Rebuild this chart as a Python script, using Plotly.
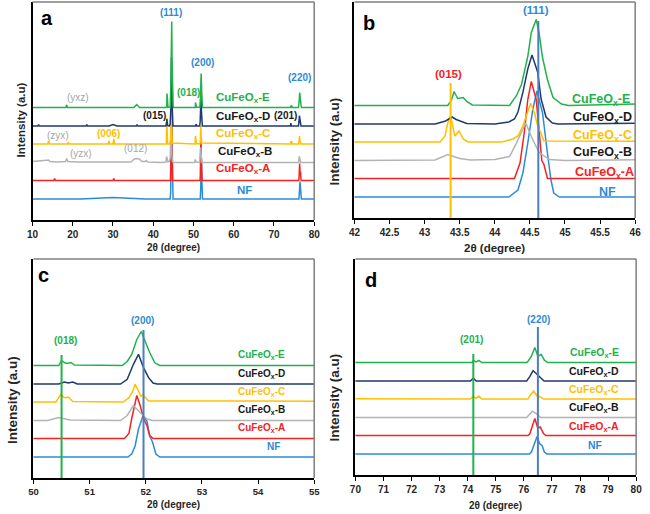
import plotly.graph_objects as go

# ---------------- data ----------------
series_names = ["NF", "CuFeOx-A", "CuFeOx-B", "CuFeOx-C", "CuFeOx-D", "CuFeOx-E"]
series_offsets = [21, 39.5, 57.5, 76, 94, 112.5]

nf_x = [10, 22, 30, 38, 44.20, 44.33, 44.40, 44.47, 44.54, 44.60, 44.68, 44.75, 44.80, 44.84, 44.92,
        51.68, 51.75, 51.81, 51.87, 51.95, 52.02, 52.07, 52.12, 52.18, 52.25,
        76.20, 76.27, 76.35, 76.47, 76.56, 76.65, 76.73, 76.82, 80]
nf_y = [0, 0, 1.5, 0, 0, 7, 24, 54, 87, 106, 84, 44, 17, 4, 0,
        0, 3, 11, 28, 41, 36, 21, 15, 3, 0,
        0, 2, 8.6, 17.5, 10.3, 8.6, 2, 0, 0]

a_x = [10, 15.3, 15.5, 15.7, 30.0, 30.2, 30.4,
       44.28, 44.36, 44.42, 44.47, 44.52, 44.59, 44.63, 44.67, 44.70, 44.75,
       51.62, 51.70, 51.75, 51.80, 51.84, 51.90, 51.96, 52.02, 52.07, 52.13,
       76.14, 76.21, 76.30, 76.39, 76.50, 76.58, 76.70, 76.78, 80]
a_y = [0, 0, 2, 0, 0, 2, 0,
       0, 15.7, 46, 79, 97, 79, 46, 18, 14, 0,
       0, 5, 20, 33, 43, 33, 20, 13, 3, 0,
       0, 1.5, 8.7, 17, 7, 8.7, 2, 0, 0]

b_x = [10, 12, 14.0, 14.3, 16, 18.2, 18.5, 18.8, 21,
       34.5, 35.3, 35.8, 36.5, 37.2, 38.0, 38.3, 38.6,
       42.0, 43.15, 43.33, 43.5, 43.65, 44.0, 44.21, 44.31, 44.44, 44.52, 44.63, 44.78, 45.0,
       50.25, 50.45, 50.65, 51.55, 51.67, 51.78, 51.90, 52.02, 52.12,
       76.10, 76.20, 76.30, 76.44, 76.60, 80]
b_y = [1, 1.5, 2.5, 1, 0.5, 1, 4, 1, 0.5,
       0.5, 3.5, 4, 3.5, 1, 1, 2, 0.5,
       0, 0.5, 6, 2, 0.5, 1, 4, 17.7, 37.7, 24, 8, 1, 0,
       0, 3, 0.5, 0, 5, 15, 8, 1.5, 0,
       0, 3, 6.3, 4, 0, 0]

c_x = [10, 13.8, 14.0, 14.2, 18.7, 18.9, 19.1, 28.8, 29.0, 29.2, 30.0, 30.2, 30.4,
       43.22, 43.29, 43.33, 43.37, 43.40, 43.43, 43.49, 43.55, 43.62,
       44.10, 44.26, 44.33, 44.40, 44.51, 44.57, 44.61, 44.65, 44.70,
       50.40, 50.49, 50.53, 50.57, 50.62, 50.70,
       51.60, 51.70, 51.76, 51.81, 51.87, 51.91, 51.95, 52.05,
       74.10, 74.20, 74.30, 74.40, 74.50,
       76.15, 76.21, 76.35, 76.47, 76.60, 76.70, 80]
c_y = [0, 0, 3, 0, 0, 2, 0, 0, 3, 0, 0, 5, 0,
       0, 6, 19, 26, 16, 6, 11, 3, 0,
       0, 3, 6, 16, 38.7, 28, 16, 10, 1,
       0, 8, 5, 4.3, 5, 0.5,
       0, 4.3, 10, 17.7, 11, 6, 7, 1,
       0, 3, 0.5, 3, 0,
       0, 3, 8, 3, 2, 0, 0]

d_x = [10, 11.3, 11.5, 11.7, 23.3, 23.5, 23.7, 29.0, 30.0, 31.0, 35.8, 36.0, 36.2,
       43.15, 43.30, 43.39, 43.45, 43.60,
       44.00, 44.20, 44.28, 44.33, 44.40, 44.47, 44.53, 44.61, 44.66, 44.73, 44.82, 44.90,
       50.45, 50.55, 50.62, 50.70, 50.78,
       51.55, 51.67, 51.78, 51.87, 51.96, 52.05, 52.13, 52.20,
       74.10, 74.20, 74.30,
       76.10, 76.21, 76.33, 76.42, 76.50, 76.62, 76.72, 80]
d_y = [0, 0, 1.5, 0, 0, 1.5, 0, 0, 1.5, 0, 0, 1.5, 0,
       0, 3, 7, 4.5, 0.5,
       0, 2, 5, 12, 31.7, 55, 69, 52, 25, 7, 1, 0,
       0, 2, 1, 2, 0,
       0, 4.7, 19.7, 29.7, 16.3, 6.3, 1, 0,
       0, 3, 0,
       0, 4.3, 10.3, 8, 6, 2.7, 0, 0]

e_x = [10, 18.3, 18.5, 18.7, 35.2, 35.9, 36.6,
       43.33, 43.38, 43.42, 43.47, 43.55, 43.60, 43.68,
       44.21, 44.31, 44.38, 44.47, 44.52, 44.59, 44.63, 44.68, 44.75, 44.83, 44.95, 45.05,
       50.45, 50.50, 50.55, 50.60, 50.67, 50.73,
       51.58, 51.67, 51.75, 51.84, 51.92, 51.99, 52.07, 52.16, 52.25,
       74.15, 74.20, 74.30, 74.40, 74.50,
       76.10, 76.15, 76.27, 76.39, 76.50, 76.62, 76.73, 76.85, 80]
e_y = [0, 0, 2.5, 0, 0, 3, 0,
       0, 5, 14, 7, 8, 4, 0.5,
       0, 10, 21, 49, 73, 86, 73, 48, 26, 8, 1.5, 0,
       0, 5, 3, 2, 3, 0.5,
       0, 4, 11, 26, 34, 24, 13, 2.7, 0,
       0, 2, 0.5, 2, 0,
       0, 1.3, 6.3, 15, 6.3, 8, 2.3, 0, 0]

series_x = [nf_x, a_x, b_x, c_x, d_x, e_x]
series_y = [nf_y, a_y, b_y, c_y, d_y, e_y]

# text labels of the series (shown at right of each panel)
label_texts = ["NF", "CuFeO<sub>x</sub>-A", "CuFeO<sub>x</sub>-B",
               "CuFeO<sub>x</sub>-C", "CuFeO<sub>x</sub>-D", "CuFeO<sub>x</sub>-E"]

# reference lines per panel: (2theta, top)
ref_b = [(43.37, 135, "yellow"), (44.62, 197, "ref")]
ref_c = [(50.50, 123, "green"), (51.96, 148, "ref")]
ref_d = [(74.20, 121, "green"), (76.50, 148, "ref")]

# peak index labels per panel: (text, 2theta, y, colour, bold)
hkl_a = [("(111)", 44.5, 207, "blue", True), ("(200)", 52.2, 157, "blue", True),
         ("(220)", 76.3, 143, "blue", True), ("(018)", 48.7, 128, "green", True),
         ("(015)", 40.4, 105, "black", True), ("(201)", 72.9, 105, "black", True),
         ("(yxz)", 21.2, 123, "gray", False), ("(zyx)", 16.3, 85, "gray", False),
         ("(006)", 29.0, 87, "yellow", True), ("(yzx)", 22.1, 67, "gray", False),
         ("(012)", 35.5, 72, "gray", False)]
hkl_b = [("(111)", 44.59, 208, "blue", True), ("(015)", 43.34, 144, "red", True)]
hkl_c = [("(200)", 51.95, 158, "blue", True), ("(018)", 50.57, 138, "green", True)]
hkl_d = [("(220)", 76.51, 156, "blue", True), ("(201)", 74.14, 136, "green", True)]

# ---------------- styling ----------------
FONT = "Liberation Sans, Arial, sans-serif"
palette = {"blue": "#2b8cd6", "red": "#f52222", "gray": "#b3b3b3", "yellow": "#ffc000",
           "navy": "#1f3a6e", "green": "#22b14c", "black": "#1a1a1a", "ref": "#4a7fc0"}
series_colors = [palette["blue"], palette["red"], palette["gray"], palette["yellow"],
                 palette["navy"], palette["green"]]
label_colors = [palette["blue"], palette["red"], palette["black"], palette["yellow"],
                palette["black"], palette["green"]]
text_colors = dict(palette)
text_colors["gray"] = "#a6a6a6"

panels = [
    dict(letter="a", xa="x", ya="y", xr=[10, 80], dtick=10, yr=[0, 218],
         xd=[27 / 650, 314 / 650], yd=[1 - 220 / 514, 1 - 2 / 514],
         lab_x=[62.7, 62.2, 62.7, 62.2, 62.4, 62.4], lab_y=[30, 51, 68.5, 86, 103.5, 122],
         lab_size=11.5, hkl=hkl_a, hkl_size=10, refs=[], tick_size=10, xt_size=10, yt_size=11.5,
         letter_pos=(0.052, 0.925), xt_y=-0.128, yt_pos=(-0.042, 0.46)),
    dict(letter="b", xa="x2", ya="y2", xr=[42, 46], dtick=0.5, yr=[0, 216],
         xd=[355 / 650, 641 / 650], yd=[1 - 218 / 514, 1 - 2 / 514],
         lab_x=[45.60, 45.57, 45.53, 45.53, 45.53, 45.52], lab_y=[26.3, 45.3, 65.3, 82, 100, 118],
         lab_size=12.5, hkl=hkl_b, hkl_size=11.5, refs=ref_b, tick_size=10, xt_size=11.5, yt_size=13.5,
         letter_pos=(0.052, 0.905), xt_y=-0.139, yt_pos=(-0.07, 0.353)),
    dict(letter="c", xa="x3", ya="y3", xr=[50, 55], dtick=1, yr=[0, 219],
         xd=[28 / 650, 314 / 650], yd=[1 - 478 / 514, 1 - 259 / 514],
         lab_x=[54.27, 54.06, 54.06, 54.06, 54.06, 54.06], lab_y=[32, 50.3, 68, 86, 104.3, 123.3],
         lab_size=10, hkl=hkl_c, hkl_size=10, refs=ref_c, tick_size=9.5, xt_size=10, yt_size=13.5,
         letter_pos=(0.035, 0.925), xt_y=-0.123, yt_pos=(-0.074, 0.355)),
    dict(letter="d", xa="x4", ya="y4", xr=[70, 80], dtick=1, yr=[0, 216],
         xd=[356 / 650, 642 / 650], yd=[1 - 475 / 514, 1 - 259 / 514],
         lab_x=[78.54, 78.51, 78.51, 78.51, 78.51, 78.51], lab_y=[30, 48.3, 66.6, 85, 103.3, 121.6],
         lab_size=10.5, hkl=hkl_d, hkl_size=10, refs=ref_d, tick_size=10, xt_size=10, yt_size=13.5,
         letter_pos=(0.056, 0.905), xt_y=-0.139, yt_pos=(-0.073, 0.358)),
]

fig = go.Figure()
annotations = []
shapes = []
layout_axes = {}

for p in panels:
    xa, ya = p["xa"], p["ya"]
    for name, xs, ys, off, col in zip(series_names, series_x, series_y, series_offsets, series_colors):
        fig.add_trace(go.Scatter(x=xs, y=[v + off for v in ys], xaxis=xa, yaxis=ya, mode="lines",
                                 name=name, line=dict(color=col, width=1.5),
                                 showlegend=False, hoverinfo="skip"))
    for (rx, top, ck) in p["refs"]:
        fig.add_trace(go.Scatter(x=[rx, rx], y=[0, top], xaxis=xa, yaxis=ya, mode="lines",
                                 line=dict(color=palette[ck], width=2),
                                 showlegend=False, hoverinfo="skip"))

    xkey = "xaxis" if xa == "x" else "xaxis" + xa[1:]
    ykey = "yaxis" if ya == "y" else "yaxis" + ya[1:]
    layout_axes[xkey] = dict(domain=p["xd"], range=p["xr"], tick0=p["xr"][0], dtick=p["dtick"],
                             anchor=ya, ticks="outside", ticklen=4, tickwidth=1.2, tickcolor="black",
                             showline=True, linecolor="black", linewidth=2, showgrid=False,
                             zeroline=False, fixedrange=True,
                             tickfont=dict(family=FONT, size=p["tick_size"], color="#262626",
                                           weight="bold"))
    layout_axes[ykey] = dict(domain=p["yd"], range=p["yr"], anchor=xa, showticklabels=False,
                             ticks="", showline=True, linecolor="black", linewidth=2,
                             showgrid=False, zeroline=False, fixedrange=True)

    # grey top / right frame
    shapes.append(dict(type="line", xref=xa + " domain", yref=ya + " domain", x0=0, x1=1, y0=1, y1=1,
                       line=dict(color="#7f7f7f", width=1.5)))
    shapes.append(dict(type="line", xref=xa + " domain", yref=ya + " domain", x0=1, x1=1, y0=0, y1=1,
                       line=dict(color="#7f7f7f", width=1.5)))

    # series labels
    for t, lx, ly, c in zip(label_texts, p["lab_x"], p["lab_y"], label_colors):
        annotations.append(dict(text=t, x=lx, y=ly, xref=xa, yref=ya,
                                showarrow=False, xanchor="center", yanchor="middle",
                                font=dict(family=FONT, size=p["lab_size"], color=c, weight="bold")))
    # peak index labels
    for (t, hx, hy, ck, bold) in p["hkl"]:
        annotations.append(dict(text=t, x=hx, y=hy, xref=xa, yref=ya,
                                showarrow=False, xanchor="center", yanchor="middle",
                                font=dict(family=FONT, size=p["hkl_size"], color=text_colors[ck],
                                          weight="bold" if bold else "normal")))
    # panel letter
    annotations.append(dict(text=p["letter"], x=p["letter_pos"][0], y=p["letter_pos"][1],
                            xref=xa + " domain", yref=ya + " domain", showarrow=False,
                            xanchor="center", yanchor="middle",
                            font=dict(family=FONT, size=20, color="black", weight="bold")))
    # axis titles
    annotations.append(dict(text="2θ (degree)", x=0.5, y=p["xt_y"],
                            xref=xa + " domain", yref=ya + " domain", showarrow=False,
                            xanchor="center", yanchor="middle",
                            font=dict(family=FONT, size=p["xt_size"], color="#262626", weight="bold")))
    annotations.append(dict(text="Intensity (a.u)", x=p["yt_pos"][0], y=p["yt_pos"][1],
                            xref=xa + " domain", yref=ya + " domain", showarrow=False, textangle=-90,
                            xanchor="center", yanchor="middle",
                            font=dict(family=FONT, size=p["yt_size"], color="#262626", weight="bold")))

fig.update_layout(width=650, height=514, margin=dict(l=0, r=0, t=0, b=0),
                  paper_bgcolor="white", plot_bgcolor="white",
                  font=dict(family=FONT),
                  annotations=annotations, shapes=shapes, **layout_axes)

# remove the browser's default page margin so the 650x514 figure fills the window exactly
fig.write_html("out.html", config={"displayModeBar": False},
               post_script="document.body.style.margin='0';document.body.style.padding='0';")
